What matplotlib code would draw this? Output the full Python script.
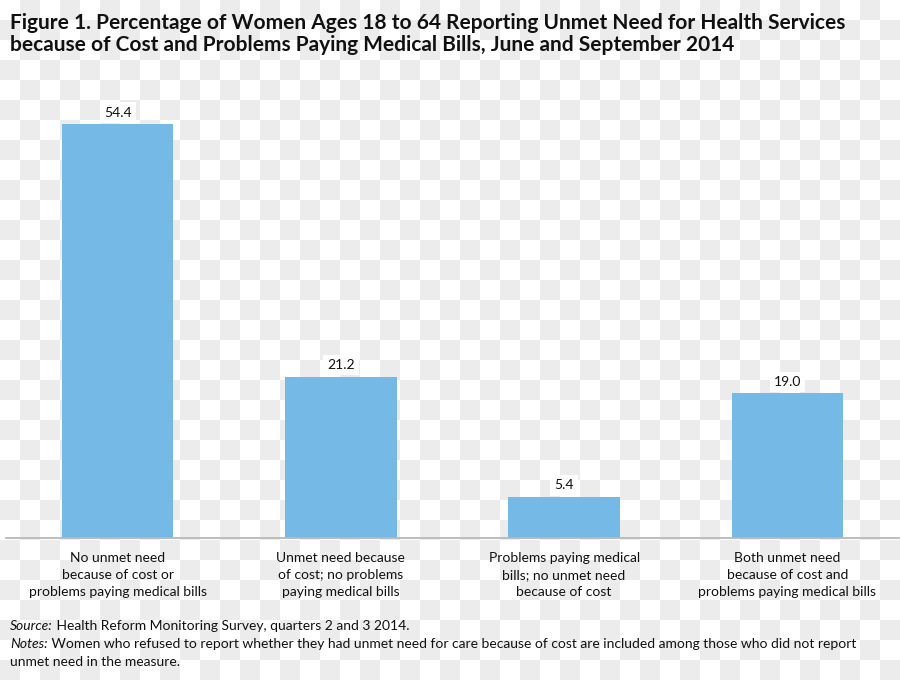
import numpy as np
import matplotlib
matplotlib.use("Agg")
import matplotlib.pyplot as plt

categories = [
    "No unmet need\nbecause of cost or\nproblems paying medical bills",
    "Unmet need because\nof cost; no problems\npaying medical bills",
    "Problems paying medical\nbills; no unmet need\nbecause of cost",
    "Both unmet need\nbecause of cost and\nproblems paying medical bills",
]
values = [54.4, 21.2, 5.4, 19.0]
value_labels = ["54.4", "21.2", "5.4", "19.0"]

title = ("Figure 1. Percentage of Women Ages 18 to 64 Reporting Unmet Need for Health Services\n"
         "because of Cost and Problems Paying Medical Bills, June and September 2014")
source_label = "Source:"
source_text = " Health Reform Monitoring Survey, quarters 2 and 3 2014."
notes_label = "Notes:"
notes_text = (" Women who refused to report whether they had unmet need for care because of cost "
              "are included among those who did not report")
notes_text2 = "unmet need in the measure."

plt.rcParams['font.family'] = ['Lato', 'DejaVu Sans']

W, H = 900, 680
fig = plt.figure(figsize=(W / 100, H / 100), dpi=100)

# transparent-background checkerboard look
yy, xx = np.indices((H, W))
check = ((xx // 20 + yy // 20) % 2 == 1)
img = np.ones((H, W, 3))
img[check] = 236 / 255
fig.figimage(img, xo=0, yo=0, origin='upper', zorder=-10)

ax = fig.add_axes([6 / W, (H - 538) / H, 893 / W, 458 / H])
ax.patch.set_alpha(0)
x = np.arange(len(categories))
ax.bar(x, values, width=0.5, color="#75bae6", zorder=2)
ax.set_xlim(-0.5, len(categories) - 0.5)
ax.set_ylim(0, 60.2)
for s in ["top", "left", "right"]:
    ax.spines[s].set_visible(False)
ax.spines["bottom"].set_color("#b8b8b8")
ax.spines["bottom"].set_linewidth(1.3)
ax.set_yticks([])
ax.set_xticks(x)
ax.set_xticklabels(categories, fontsize=10, linespacing=1.5, color="#111111")
ax.tick_params(axis="x", length=0, pad=10)

for xi, v, lab in zip(x, values, value_labels):
    ax.annotate(lab, (xi, v), xytext=(0, 4), textcoords="offset points",
                ha="center", va="bottom", fontsize=10, color="#111111",
                bbox=dict(boxstyle="square,pad=0.3", fc="white", ec="none"))

fig.text(10 / W, 1 - 13 / H, title, ha="left", va="top", fontsize=15,
         fontweight="bold", linespacing=1.15, color="#111111")

fig.canvas.draw()
r = fig.canvas.get_renderer()

def mixed(y_px, label, rest):
    t1 = fig.text(10 / W, 1 - y_px / H, label, ha="left", va="baseline",
                  fontsize=10, style="italic", color="#111111")
    bb = t1.get_window_extent(renderer=r)
    fig.text(bb.x1 / W, 1 - y_px / H, rest, ha="left", va="baseline",
             fontsize=10, color="#111111")

mixed(630, source_label, source_text)
mixed(648, notes_label, notes_text)
fig.text(10 / W, 1 - 666 / H, notes_text2, ha="left", va="baseline",
         fontsize=10, color="#111111")

fig.savefig("out.png", dpi=100)
